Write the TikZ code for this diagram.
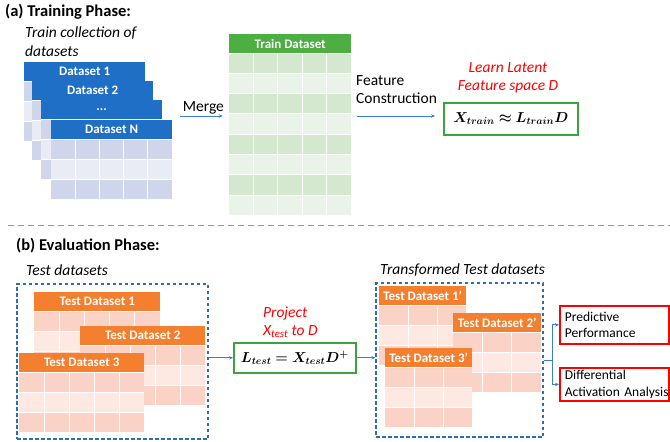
\documentclass[tikz,border=0pt]{standalone}
\usepackage{fontspec}
\setmainfont{Carlito}
\usepackage{tikz,amsmath,amssymb,bm}
\usetikzlibrary{backgrounds, calc, positioning, fit}
\usetikzlibrary{arrows.meta}

\definecolor{bluehead}{HTML}{1F6FC6}
\definecolor{bluedark}{HTML}{CFD5EA}
\definecolor{bluelight}{HTML}{E9EBF5}
\definecolor{greenhead}{HTML}{4DAE41}
\definecolor{greendark}{HTML}{D4E7CF}
\definecolor{greenlight}{HTML}{EAF3E8}
\definecolor{orangehead}{HTML}{F4802F}
\definecolor{orangedark}{HTML}{FAD2C6}
\definecolor{orangelight}{HTML}{FDE8E2}
\definecolor{boxgreen}{HTML}{3CA43C}
\definecolor{flowblue}{HTML}{3C7FD0}
\definecolor{dashblue}{HTML}{2E6DB4}

\tikzset{
    phasetitle/.style={anchor=base west, inner sep=0, font=\fontsize{16.5}{20}\selectfont\bfseries},
    caption/.style={anchor=north west, inner sep=0, align=left, font=\fontsize{15.5}{19}\selectfont\itshape},
    hint/.style={inner sep=0, text=red, font=\fontsize{15.5}{18}\selectfont\itshape},
    plain/.style={anchor=north west, inner sep=0, align=left, font=\fontsize{15.5}{18}\selectfont},
    hdr/.style={anchor=north west, inner sep=0, minimum height=19pt, text=white, font=\fontsize{13}{14}\selectfont\bfseries},
    mathbox/.style={draw=boxgreen, line width=1.6pt, fill=white, anchor=north west, inner sep=0, font=\fontsize{14}{16}\selectfont},
    outbox/.style={draw=red, line width=1.8pt, anchor=north west, inner xsep=5pt, inner ysep=0, minimum height=#1,
        text width=99pt, align=left, font=\fontsize{13.5}{16.5}\selectfont},
    setbox/.style={draw=dashblue, line width=1.1pt, dash pattern=on 3.5pt off 2.5pt, inner sep=0},
    flow/.style={draw=flowblue, line width=0.9pt, -{Stealth[length=4pt, width=3.5pt]}},
}

% #1 name, (#2,#3) top left, #4 width, #5 columns, #6 rows, #7 row height, #8 colour set, #9 title
\newcommand{\datatable}[9]{%
    \foreach \r in {1,...,#6}{
        \pgfmathsetmacro{\rtop}{#3+19+(\r-1)*#7}
        \pgfmathtruncatemacro{\odd}{mod(\r,2)}
        \ifnum\odd=1 \def\rowcol{#8dark}\else \def\rowcol{#8light}\fi
        \fill[fill=\rowcol] (#2,\rtop) rectangle ++(#4,#7);
        \draw[white, line width=1pt] (#2,\rtop) -- ++(#4,0);
    }
    \pgfmathtruncatemacro{\ncm}{#5-1}
    \foreach \c in {1,...,\ncm}
        \draw[white, line width=1pt] (#2+\c*#4/#5, #3+19) -- ++(0, #6*#7);
    \node[hdr, fill=#8head, minimum width=#4pt] (#1-hdr) at (#2,#3) {#9};
    \coordinate (#1-se) at (#2+#4, #3+19+#6*#7);
    \node[fit=(#1-hdr)(#1-se), inner sep=0] (#1) {};
}

\begin{document}
\begin{tikzpicture}[x=1pt, y=-1pt]
    \useasboundingbox[fill=white] (0,0) rectangle (670,442);

    % (a) training
    \node[phasetitle] (titleA) at (5,16) {(a) Training Phase:};
    \node[caption] (trainset) at (25,27) {Train collection of\\datasets};
    \datatable{ds1}{24}{62}{121}{5}{3}{20}{blue}{Dataset 1}
    \datatable{ds2}{32}{81}{121}{5}{3}{20}{blue}{Dataset 2}
    \datatable{ds3}{41}{100}{121}{5}{3}{20}{blue}{...}
    \datatable{dsN}{51}{120}{121}{5}{3}{20}{blue}{Dataset N}
    \datatable{train}{229}{34}{122}{5}{8}{20.3}{green}{Train Dataset}

    \node[mathbox, minimum width=134pt, minimum height=32pt] (learn) at (443,102)
        {$\bm{X_{train} \approx L_{train} D}$};
    \node[hint, align=center] (learnlbl) at (508,78) {Learn Latent\\Feature space D};

    \coordinate (merge-s) at (180,116);
    \draw[flow, shorten >=6pt] (merge-s) -- (train.west |- merge-s)
        node[plain, pos=0.05, anchor=base west, yshift=5pt] (mergelbl) {Merge};
    \draw[flow, shorten <=5pt, shorten >=8pt] (train.east |- 0,116) -- (learn.west |- 0,116);
    \node[plain] (featlbl) at (356,75) {Feature\\Construction};

    \draw[gray!80, line width=1pt, dash pattern=on 6pt off 4pt] (8,225) -- (670,225);

    % (b) evaluation
    \node[phasetitle] (titleB) at (16,250) {(b) Evaluation Phase:};
    \node[caption] (testlbl) at (26,265) {Test datasets};
    \node[setbox, fit={(17,284)(208,439)}] (tests) {};
    \datatable{test1}{34}{292}{126}{5}{3}{20}{orange}{Test Dataset 1}
    \datatable{test2}{80}{326}{125}{5}{3}{20}{orange}{Test Dataset 2}
    \datatable{test3}{19}{353}{125}{5}{3}{20}{orange}{Test Dataset 3}

    \node[mathbox, minimum width=122pt, minimum height=30pt] (project) at (233,342)
        {$\bm{L_{test} = X_{test} D^{+}}$};
    \node[hint, align=left, anchor=south west] (projlbl) at (263,338) {Project\\X\textsubscript{test} to D};

    \node[caption] (translbl) at (380,264) {Transformed Test datasets};
    \node[setbox, fit={(376,283)(543,437)}] (trans) {};
    \datatable{tr1}{379}{286}{87}{3}{3}{20}{orange}{Test Dataset 1’}
    \datatable{tr2}{453}{313}{88}{3}{3}{20}{orange}{Test Dataset 2’}
    \datatable{tr3}{385}{348}{87}{3}{3}{20}{orange}{Test Dataset 3’}

    \node[outbox=38pt] (pred) at (559,305) {Predictive\\Performance};
    \node[outbox=33pt] (diff) at (559,367) {Differential\\\mbox{Activation Analysis}};

    \draw[flow] (tests.east |- project.west) -- (project.west);
    \draw[flow] (project.east) -- (trans.west |- project.east);
    \coordinate (split) at ($(trans.east)+(9,0)$);
    \draw[draw=flowblue, line width=0.9pt] (trans.east) -- (split);
    \draw[flow] (split) |- (pred.west);
    \draw[flow] (split) |- (diff.west);
\end{tikzpicture}
\end{document}
